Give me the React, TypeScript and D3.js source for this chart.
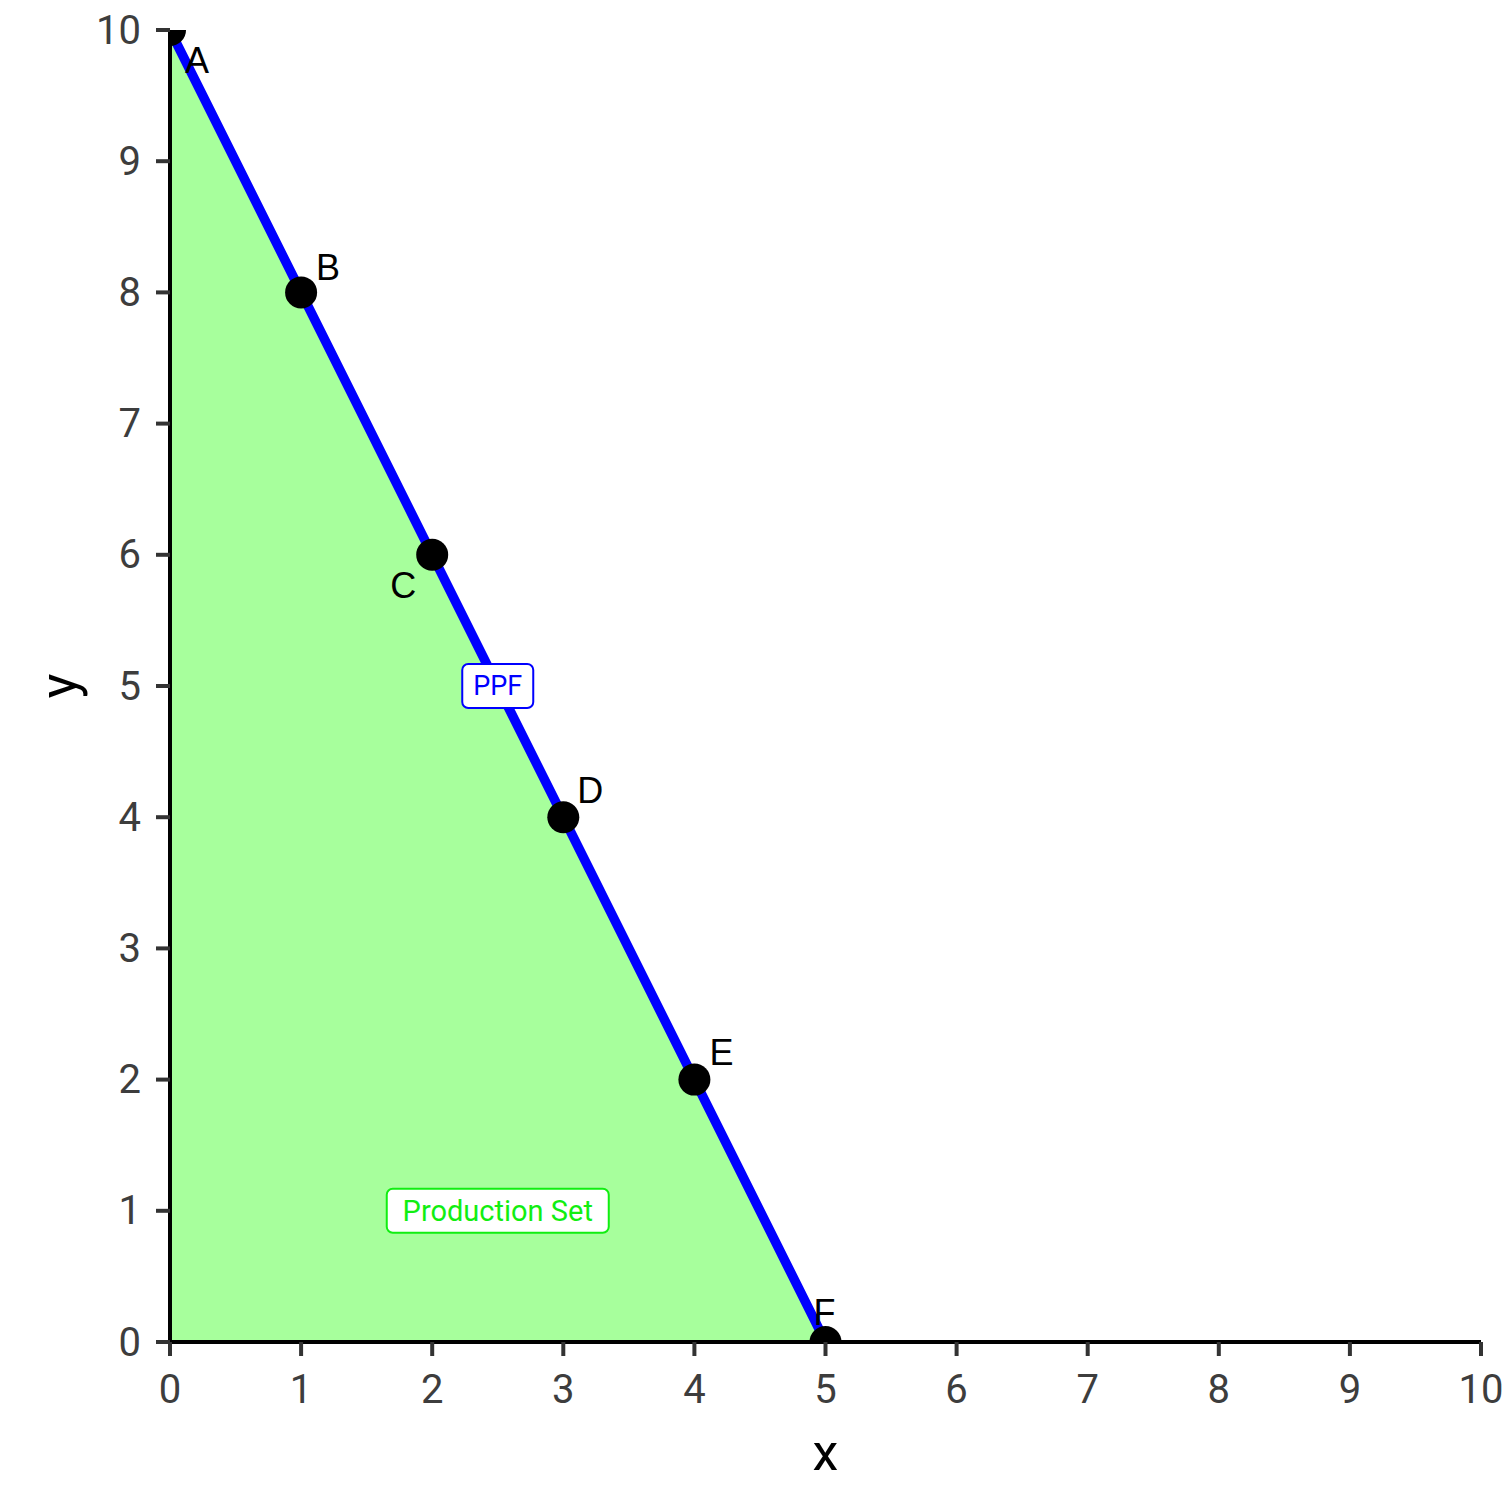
import React from 'react';
import * as d3 from 'd3';

// PPF points
const pointNames = ['A', 'B', 'C', 'D', 'E', 'F'];
const xValues = [0, 1, 2, 3, 4, 5];
const yValues = [10, 8, 6, 4, 2, 0];
// label nudges in px (repel-like placement)
const labelDx = [27, 27, -29, 27, 27, -1];
const labelDy = [30, -25, 31, -27, -27, -30];

const productionSet = [
  [0, 0],
  [0, 10],
  [5, 0],
];
const xTicks = [0, 1, 2, 3, 4, 5, 6, 7, 8, 9, 10];
const yTicks = [0, 1, 2, 3, 4, 5, 6, 7, 8, 9, 10];

const width = 1512;
const height = 1512;

const App: React.FC = () => {
  const x = d3.scaleLinear().domain([0, 10]).range([170, 1481]);
  const y = d3.scaleLinear().domain([0, 10]).range([1342, 30]);

  const area = d3.line<number[]>()
    .x(d => x(d[0]))
    .y(d => y(d[1]));
  const ppf = d3.line<number>()
    .x((_, i) => x(xValues[i]))
    .y((_, i) => y(yValues[i]));

  const tickFont = 'Roboto, "Noto Sans", sans-serif';

  return (
    <svg
      width={width}
      height={height}
      style={{ position: 'absolute', left: 0, top: 0, background: '#fff' }}
    >
      <defs>
        <clipPath id="panel">
          <rect x={x(0)} y={y(10)} width={x(10) - x(0)} height={y(0) - y(10)} />
        </clipPath>
      </defs>

      <g clipPath="url(#panel)">
        <path d={area(productionSet) + 'Z'} fill="#a7ff9c" />
        <path d={ppf(xValues) ?? ''} fill="none" stroke="#0000ff" strokeWidth={9.5} />
        {xValues.map((v, i) => (
          <circle key={i} cx={x(v)} cy={y(yValues[i])} r={16} fill="#000" />
        ))}
      </g>

      {pointNames.map((n, i) => (
        <text
          key={n}
          x={x(xValues[i]) + labelDx[i]}
          y={y(yValues[i]) + labelDy[i]}
          textAnchor="middle"
          dominantBaseline="central"
          fontFamily='"Liberation Sans", Arial, sans-serif'
          fontSize={36}
          fill="#000"
        >
          {n}
        </text>
      ))}

      {/* PPF label */}
      <g transform={`translate(${x(2.5)},${y(5)})`}>
        <rect x={-35.5} y={-22} width={71} height={44} rx={6} fill="#fff" stroke="#0000ff" strokeWidth={2} />
        <text textAnchor="middle" dominantBaseline="central" fontFamily={tickFont} fontSize={27} fill="#0000ff">
          PPF
        </text>
      </g>

      {/* Production set label */}
      <g transform={`translate(${x(2.5)},${y(1)})`}>
        <rect x={-111} y={-22} width={222} height={44} rx={6} fill="#fff" stroke="#11ee11" strokeWidth={2} />
        <text textAnchor="middle" dominantBaseline="central" fontFamily={tickFont} fontSize={29} fill="#11ee11">
          Production Set
        </text>
      </g>

      {/* axes */}
      <line x1={x(0)} x2={x(10)} y1={y(0)} y2={y(0)} stroke="#000" strokeWidth={4} />
      <line x1={x(0)} x2={x(0)} y1={y(0)} y2={y(10)} stroke="#000" strokeWidth={4} />

      {xTicks.map(t => (
        <g key={'x' + t}>
          <line x1={x(t)} x2={x(t)} y1={y(0)} y2={y(0) + 14} stroke="#333" strokeWidth={4} />
          <text
            x={x(t)}
            y={1389}
            textAnchor="middle"
            dominantBaseline="central"
            fontFamily={tickFont}
            fontSize={40}
            fill="#3d3d3d"
          >
            {t}
          </text>
        </g>
      ))}
      {yTicks.map(t => (
        <g key={'y' + t}>
          <line x1={x(0) - 14} x2={x(0)} y1={y(t)} y2={y(t)} stroke="#333" strokeWidth={4} />
          <text
            x={141}
            y={y(t)}
            textAnchor="end"
            dominantBaseline="central"
            fontFamily={tickFont}
            fontSize={40}
            fill="#3d3d3d"
          >
            {t}
          </text>
        </g>
      ))}

      <text
        x={x(5)}
        y={1452}
        textAnchor="middle"
        dominantBaseline="central"
        fontFamily={tickFont}
        fontSize={52}
        fill="#000"
      >
        x
      </text>
      <text
        transform={`translate(58,${y(5)}) rotate(-90)`}
        textAnchor="middle"
        dominantBaseline="central"
        fontFamily={tickFont}
        fontSize={52}
        fill="#000"
      >
        y
      </text>
    </svg>
  );
};

export default App;
